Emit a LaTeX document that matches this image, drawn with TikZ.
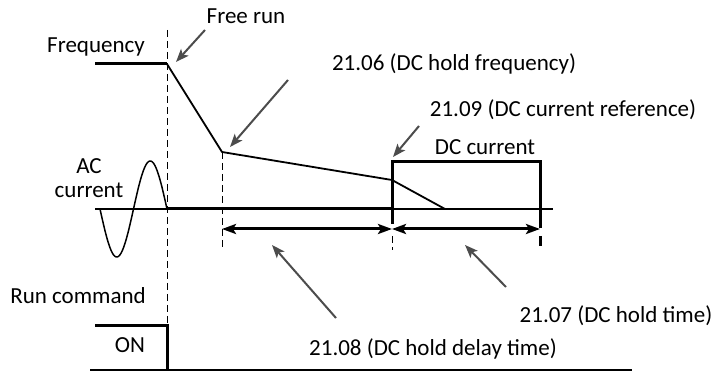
\documentclass[tikz,border=0pt]{standalone}
\usepackage{fontspec}
\setmainfont{Carlito}
\usetikzlibrary{arrows.meta}
\begin{document}
\begin{tikzpicture}[x=1pt,y=-1pt,
  lbl/.style={inner sep=0pt,font=\fontsize{23}{27}\selectfont},
  sig/.style={line width=3pt},
  slope/.style={line width=1.8pt},
  thin/.style={line width=1.2pt},
  guide/.style={line width=1pt,dash pattern=on 7pt off 4pt},
  ann/.style={draw=black!70,line width=2pt,-{Stealth[length=13pt,width=10pt,inset=3pt]}},
  dim/.style={line width=3pt,{Stealth[length=14pt,width=10pt,inset=3pt]}-{Stealth[length=14pt,width=10pt,inset=3pt]}}]
\useasboundingbox (0,0) rectangle (718,371);
% key points
\coordinate (f0) at (95,64);
\coordinate (f1) at (167,64);
\coordinate (f2) at (222,152);
\coordinate (f3) at (392,180);
\coordinate (f4) at (445,209);
\coordinate (ax0) at (95,209);
\coordinate (ax1) at (553,209);
\coordinate (acend) at (167,209);
\coordinate (dcl) at (392,209);
\coordinate (bxtl) at (392,162);
\coordinate (bxtr) at (540,162);
\coordinate (bxbr) at (540,228);
\coordinate (bxbl) at (392,224);
\coordinate (t1) at (222,229);
\coordinate (t2) at (392,229);
\coordinate (t3) at (540,229);
% labels
\node[lbl] (freq) at (96,47) {Frequency};
\node[lbl] (free) at (246,16) {Free run};
\node[lbl] (l2106) at (454,64) {21.06 (DC hold frequency)};
\node[lbl] (l2109) at (563,110) {21.09 (DC current reference)};
\node[lbl] (dcc) at (485,147) {DC current};
\node[lbl,align=center] (acc) at (89,178) {AC\\[-3pt]current};
\node[lbl] (run) at (78,296) {Run command};
\node[lbl] (on) at (130,345) {ON};
\node[lbl] (l2108) at (433,349) {21.08 (DC hold delay time)};
\node[lbl] (l2107) at (616,316) {21.07 (DC hold time)};
% guides
\draw[guide] (167,30) -- (167,325);
\draw[guide] (f2) -- (222,250);
\draw[guide] (392,236) -- (392,250);
\draw[line width=3pt,dash pattern=on 10pt off 4pt] (540,236) -- (540,250);
% frequency
\draw[sig] (f0) -- (f1);
\draw[slope,line join=round] (f1) -- (f2) -- (f3) -- (f4);
% axis and AC current
\draw[thin] (ax0) -- (ax1);
\draw[line width=1.5pt] plot[variable=\t,domain=0:1,samples=80,smooth] ({100+67*\t},{209+48*sin(360*\t)});
\draw[sig] (acend) -- (dcl);
% DC current box
\draw[sig,line join=miter] (bxbl) -- (bxtl) -- (bxtr) -- (bxbr);
% time arrows
\draw[dim] (t1) -- (t2);
\draw[dim] (t2) -- (t3);
% run command
\draw[sig,line join=miter] (95,326) -- (167,326) -- (167,370);
\draw[thin] (90,370) -- (167,370);
\draw[line width=2pt] (167,370) -- (632,370);
% annotation arrows
\coordinate (a1s) at (205,30); \coordinate (a1e) at (176,62);
\coordinate (a2s) at (288,80); \coordinate (a2e) at (230,147);
\coordinate (a3s) at (419,126); \coordinate (a3e) at (393,157);
\coordinate (a4s) at (336,318); \coordinate (a4e) at (272,245);
\coordinate (a5s) at (506,287); \coordinate (a5e) at (465,245);
\draw[ann] (a1s) -- (a1e);
\draw[ann] (a2s) -- (a2e);
\draw[ann] (a3s) -- (a3e);
\draw[ann] (a4s) -- (a4e);
\draw[ann] (a5s) -- (a5e);
\end{tikzpicture}
\end{document}
